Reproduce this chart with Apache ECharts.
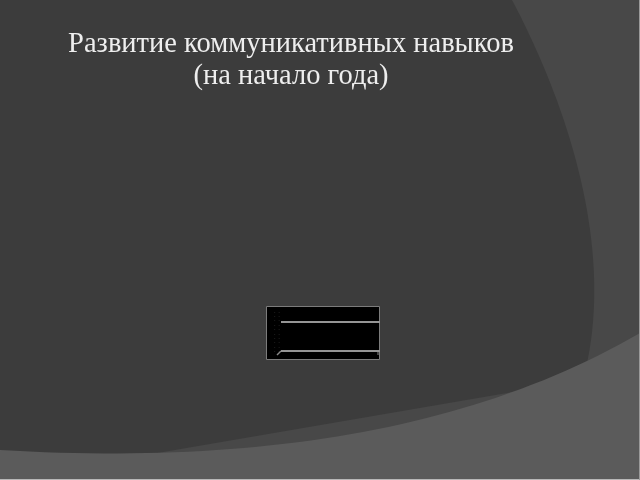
<!DOCTYPE html>
<html>
<head>
<meta charset="utf-8">
<script src="https://cdn.jsdelivr.net/npm/echarts@6/dist/echarts.min.js"></script>
<style>
  html, body { margin: 0; padding: 0; background: #484848; }
  #chart { width: 640px; height: 480px; }
</style>
</head>
<body>
<div id="chart"></div>
<script>
// слайд: заголовок + маленькая (пустая) диаграмма
const titleLines = ['Развитие коммуникативных навыков', '(на начало года)'];
const categories = [''];
const seriesValues = [0];
// уровни линий (пол / задняя стенка) по шкале оси
const gridLevels = [1.15, 7.8];

// кубическая кривая Безье -> точки многоугольника (для фона)
function bezierPts(p0, p1, p2, p3, n) {
  const pts = [];
  for (let i = 0; i <= n; i++) {
    const t = i / n, u = 1 - t;
    pts.push([
      u * u * u * p0[0] + 3 * u * u * t * p1[0] + 3 * u * t * t * p2[0] + t * t * t * p3[0],
      u * u * u * p0[1] + 3 * u * u * t * p1[1] + 3 * u * t * t * p2[1] + t * t * t * p3[1]
    ]);
  }
  return pts;
}

const darkShape = [[0, 0]].concat(
  bezierPts([512, 0], [565, 100], [618, 250], [583, 380], 40),
  [[0, 480]]
);
const lightShape = bezierPts([0, 450], [250, 465], [470, 432], [640, 333], 50)
  .concat([[640, 480], [0, 480]]);

const chart = echarts.init(document.getElementById('chart'), null, { renderer: 'canvas' });

const option = {
  backgroundColor: '#484848',
  animation: false,
  graphic: [
    { type: 'polygon', z: -10, silent: true,
      shape: { points: darkShape }, style: { fill: '#3c3c3c' } },
    { type: 'polygon', z: -9, silent: true,
      shape: { points: lightShape }, style: { fill: '#5b5b5b' } },
    { type: 'line', z: -8, silent: true,
      shape: { x1: 0, y1: 479.5, x2: 640, y2: 479.5 },
      style: { stroke: '#b8b8b8', lineWidth: 1 } },
    { type: 'line', z: -8, silent: true,
      shape: { x1: 639.5, y1: 0, x2: 639.5, y2: 480 },
      style: { stroke: '#9a9a9a', lineWidth: 1 } },
    // рамка диаграммы
    { type: 'rect', z: -5, silent: true,
      shape: { x: 266.5, y: 306.5, width: 113, height: 53 },
      style: { fill: '#000', stroke: '#7c7c7c', lineWidth: 1 } },
    { type: 'line', z: -4, silent: true,
      shape: { x1: 277, y1: 355, x2: 281, y2: 351 },
      style: { stroke: '#888', lineWidth: 1.5 } },
    { type: 'line', z: -4, silent: true,
      shape: { x1: 378, y1: 351, x2: 378, y2: 355 },
      style: { stroke: '#888', lineWidth: 1 } }
  ],
  title: {
    text: titleLines.join('\n'),
    left: 286,
    top: 24,
    textAlign: 'center',
    textStyle: {
      fontFamily: 'Liberation Serif',
      fontWeight: 'normal',
      fontSize: 28.5,
      lineHeight: 32,
      color: '#eeeeee'
    }
  },
  grid: { left: 281, right: 260, top: 308, bottom: 124, containLabel: false },
  xAxis: {
    type: 'category',
    data: categories,
    axisLine: { show: false },
    axisTick: { show: false },
    axisLabel: { show: false }
  },
  yAxis: {
    type: 'value',
    min: 0,
    max: 11,
    interval: 1,
    axisLine: { show: false },
    axisTick: { show: false },
    splitLine: { show: false },
    axisLabel: {
      show: true,
      fontSize: 5,
      margin: 1,
      color: '#6a6a6a',
      formatter: () => '·  ·'
    }
  },
  series: [{
    type: 'bar',
    data: seriesValues,
    itemStyle: { color: '#000' },
    silent: true,
    markLine: {
      silent: true,
      symbol: 'none',
      label: { show: false },
      lineStyle: { color: '#959595', type: 'solid', width: 2 },
      data: gridLevels.map(v => ({ yAxis: v }))
    }
  }]
};

chart.setOption(option);
</script>
</body>
</html>
